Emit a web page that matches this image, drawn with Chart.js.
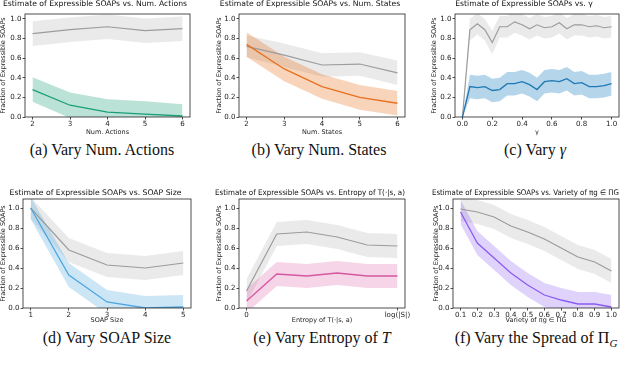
<!DOCTYPE html>
<html>
<head>
<meta charset="utf-8">
<script src="https://cdn.jsdelivr.net/npm/chart.js@4.4.1/dist/chart.umd.min.js"></script>
<style>
body{margin:0;width:640px;height:365px;overflow:hidden;background:#fff;position:relative}
canvas{position:absolute}
.cap{position:absolute;width:240px;margin-left:-120px;text-align:center;white-space:nowrap;
  font-family:'Liberation Serif','Times New Roman',serif;font-size:16px;line-height:16px;color:#111}
.cap sub{font-size:11px;line-height:0}
</style>
</head>
<body>
<canvas id="chA"></canvas>
<canvas id="chB"></canvas>
<canvas id="chC"></canvas>
<canvas id="chD"></canvas>
<canvas id="chE"></canvas>
<canvas id="chF"></canvas>
<div class="cap" style="left:102px;top:142px">(a) Vary Num. Actions</div>
<div class="cap" style="left:319px;top:142px">(b) Vary Num. States</div>
<div class="cap" style="left:535px;top:142px">(c) Vary <i>γ</i></div>
<div class="cap" style="left:107px;top:330px">(d) Vary SOAP Size</div>
<div class="cap" style="left:322px;top:330px">(e) Vary Entropy of <i>T</i></div>
<div class="cap" style="left:536px;top:330px">(f) Vary the Spread of Π<sub><i>G</i></sub></div>
<script>
'use strict';

// (a) number of actions
const actions=[2,3,4,5,6];
const actAll=[0.85,0.89,0.92,0.88,0.90];
const actAllSd=[0.125,0.125,0.125,0.125,0.125];
const actExp=[0.28,0.12,0.05,0.03,0.01];
const actExpSd=[0.125,0.13,0.13,0.13,0.12];

// (b) number of states
const states=[2,3,4,5,6];
const stAll=[0.72,0.63,0.53,0.54,0.45];
const stAllSd=[0.11,0.12,0.12,0.12,0.125];
const stExp=[0.74,0.49,0.31,0.20,0.14];
const stExpSd=[0.125,0.125,0.125,0.125,0.125];

// (c) gamma
const gammas=[0,0.05,0.1,0.15,0.2,0.25,0.3,0.35,0.4,0.45,0.5,0.55,0.6,0.65,0.7,0.75,0.8,0.85,0.9,0.95,1.0];
const gamAll=[0,0.89,0.95,0.89,0.76,0.92,0.92,0.97,0.94,0.90,0.94,0.91,0.92,0.96,0.90,0.94,0.94,0.92,0.93,0.91,0.92];
const gamAllSd=[0,0.11,0.11,0.11,0.12,0.11,0.11,0.11,0.11,0.11,0.11,0.11,0.11,0.11,0.11,0.11,0.11,0.11,0.11,0.11,0.11];
const gamExp=[0,0.31,0.30,0.31,0.27,0.28,0.34,0.34,0.36,0.33,0.28,0.36,0.37,0.36,0.39,0.34,0.35,0.31,0.31,0.32,0.34];
const gamExpSd=[0,0.12,0.12,0.12,0.12,0.12,0.12,0.12,0.12,0.12,0.12,0.12,0.12,0.12,0.12,0.12,0.12,0.12,0.12,0.12,0.12];

// (d) SOAP size
const sizes=[1,2,3,4,5];
const szAll=[1.0,0.58,0.43,0.40,0.45];
const szAllSd=[0.11,0.12,0.12,0.12,0.12];
const szExp=[1.0,0.33,0.06,0.0,0.01];
const szExpSd=[0.11,0.12,0.12,0.12,0.12];

// (e) entropy of T
const entropy=[0,1,2,3,4,5];
const entAll=[0.17,0.74,0.76,0.71,0.63,0.62];
const entAllSd=[0.12,0.12,0.12,0.12,0.12,0.12];
const entExp=[0.07,0.34,0.32,0.35,0.32,0.32];
const entExpSd=[0.12,0.12,0.12,0.12,0.12,0.12];

// (f) variety of pi_g
const variety=[0.1,0.2,0.3,0.4,0.5,0.6,0.7,0.8,0.9,1.0];
const varAll=[0.99,0.96,0.91,0.82,0.76,0.69,0.60,0.51,0.46,0.37];
const varAllSd=[0.12,0.12,0.12,0.12,0.12,0.12,0.12,0.12,0.12,0.12];
const varExp=[0.96,0.65,0.50,0.35,0.23,0.13,0.08,0.04,0.04,0.01];
const varExpSd=[0.12,0.12,0.12,0.12,0.12,0.12,0.12,0.12,0.12,0.12];

const yTicks=[0,0.2,0.4,0.6,0.8,1.0];

const grayLine='#9c9c9c';
const grayBand='rgba(158,158,158,0.22)';
const TS=7.7; // title font size
const AS=6.5; // axis title font size
const KS=7.1; // tick label font size

// draws the full box around the axes, like matplotlib spines
const frame={
    id:'frame',
    afterDraw(chart){
        const a=chart.chartArea;
        const c=chart.ctx;
        c.save();
        c.strokeStyle='#222';
        c.lineWidth=0.8;
        c.strokeRect(a.left,a.top,a.right-a.left,a.bottom-a.top);
        c.restore();
    }
};

function pts(xs,ys){
    return xs.map((x,i)=>({x:x,y:ys[i]}));
}
function shift(ys,sd,sign){
    return ys.map((v,i)=>v+sign*sd[i]);
}

function makeChart(id,p){
    const cv=document.getElementById(id);
    const [cl,ct,cw,ch]=p.canvas;
    const [bl,bt,br,bb]=p.box;
    cv.style.left=cl+'px';
    cv.style.top=ct+'px';
    cv.width=cw;
    cv.height=ch;

    const datasets=[
        {data:pts(p.xs,shift(p.all,p.allSd,1)),fill:'+1',backgroundColor:grayBand,borderWidth:0,pointRadius:0,order:4},
        {data:pts(p.xs,shift(p.all,p.allSd,-1)),fill:false,borderWidth:0,pointRadius:0,order:4},
        {data:pts(p.xs,shift(p.exp,p.expSd,1)),fill:'+1',backgroundColor:p.band,borderWidth:0,pointRadius:0,order:3},
        {data:pts(p.xs,shift(p.exp,p.expSd,-1)),fill:false,borderWidth:0,pointRadius:0,order:3},
        {data:pts(p.xs,p.all),borderColor:grayLine,borderWidth:1.2,pointRadius:0,fill:false,order:2},
        {data:pts(p.xs,p.exp),borderColor:p.color,borderWidth:1.3,pointRadius:0,fill:false,order:1}
    ];

    new Chart(cv,{
        type:'line',
        data:{datasets:datasets},
        options:{
            responsive:false,
            animation:false,
            events:[],
            layout:{padding:{left:0,top:0,bottom:0,right:cl+cw-br}},
            plugins:{
                legend:{display:false},
                tooltip:{enabled:false},
                title:{
                    display:true,
                    text:p.title,
                    color:'#111',
                    font:{family:'DejaVu Sans',size:TS,weight:'normal',lineHeight:1},
                    padding:{top:p.tPad,bottom:bt-ct-TS-p.tPad}
                }
            },
            scales:{
                x:{
                    type:'linear',
                    min:p.xMin,
                    max:p.xMax,
                    border:{display:false},
                    grid:{display:true,drawOnChartArea:false,drawTicks:true,tickLength:2.5,color:'#222',lineWidth:0.8},
                    ticks:{color:'#222',font:{family:'DejaVu Sans',size:KS},padding:0.5,maxRotation:0,autoSkip:false,
                        callback:p.xLabel},
                    afterBuildTicks:s=>{s.ticks=p.xTicks.map(v=>({value:v}));},
                    afterFit:s=>{s.height=ct+ch-bb;},
                    title:{display:true,text:p.xTitle,color:'#222',font:{family:'DejaVu Sans',size:AS,lineHeight:1},padding:{top:0,bottom:p.xtPad}}
                },
                y:{
                    min:0,
                    max:p.yMax,
                    border:{display:false},
                    grid:{display:true,drawOnChartArea:false,drawTicks:true,tickLength:2.5,color:'#222',lineWidth:0.8},
                    ticks:{color:'#222',font:{family:'DejaVu Sans',size:KS},padding:1,
                        callback:v=>Number(v).toFixed(1)},
                    afterBuildTicks:s=>{s.ticks=yTicks.map(v=>({value:v}));},
                    afterFit:s=>{s.width=bl-cl;},
                    title:{display:true,text:'Fraction of Expressible SOAPs',color:'#222',font:{family:'DejaVu Sans',size:AS,lineHeight:1},padding:{top:p.ytPad,bottom:0}}
                }
            }
        },
        plugins:[frame]
    });
}

makeChart('chA',{
    canvas:[0,0,215,138],box:[25,14,190,117],tPad:0,xtPad:2.5,ytPad:0.5,yMax:1.05,
    title:'Estimate of Expressible SOAPs vs. Num. Actions',xTitle:'Num. Actions',
    xs:actions,all:actAll,allSd:actAllSd,exp:actExp,expSd:actExpSd,
    color:'#1b9e77',band:'rgba(27,158,119,0.3)',
    xMin:1.8,xMax:6.2,xTicks:actions,xLabel:v=>String(v)
});
makeChart('chB',{
    canvas:[215,0,214,138],box:[239,14,405,117],tPad:0,xtPad:2.5,ytPad:1,yMax:1.05,
    title:'Estimate of Expressible SOAPs vs. Num. States',xTitle:'Num. States',
    xs:states,all:stAll,allSd:stAllSd,exp:stExp,expSd:stExpSd,
    color:'#e8701f',band:'rgba(232,112,31,0.3)',
    xMin:1.8,xMax:6.2,xTicks:states,xLabel:v=>String(v)
});
makeChart('chC',{
    canvas:[429,0,216,138],box:[455,14,619,117],tPad:0,xtPad:2.5,ytPad:2,yMax:1.05,
    title:'Estimate of Expressible SOAPs vs. γ',xTitle:'γ',
    xs:gammas,all:gamAll,allSd:gamAllSd,exp:gamExp,expSd:gamExpSd,
    color:'#1f78b4',band:'rgba(107,174,214,0.5)',
    xMin:-0.05,xMax:1.05,xTicks:[0,0.2,0.4,0.6,0.8,1.0],xLabel:v=>Number(v).toFixed(1)
});
makeChart('chD',{
    canvas:[0,186,214,141],box:[23,199,191,308],tPad:3,xtPad:3.5,ytPad:0,yMax:1.09,
    title:'Estimate of Expressible SOAPs vs. SOAP Size',xTitle:'SOAP Size',
    xs:sizes,all:szAll,allSd:szAllSd,exp:szExp,expSd:szExpSd,
    color:'#4da6e0',band:'rgba(77,166,224,0.28)',
    xMin:0.8,xMax:5.2,xTicks:sizes,xLabel:v=>String(v)
});
makeChart('chE',{
    canvas:[215,186,214,141],box:[239,199,405,308],tPad:3,xtPad:3.5,ytPad:1,yMax:1.09,
    title:'Estimate of Expressible SOAPs vs. Entropy of T(·|s, a)',xTitle:'Entropy of T(·|s, a)',
    xs:entropy,all:entAll,allSd:entAllSd,exp:entExp,expSd:entExpSd,
    color:'#d6589f',band:'rgba(214,88,159,0.25)',
    xMin:-0.25,xMax:5.25,xTicks:[0,5],xLabel:v=>(v===0?'0':'log(|S|)')
});
makeChart('chF',{
    canvas:[432,186,231,141],box:[453,199,619,308],tPad:3,xtPad:3.5,ytPad:1,yMax:1.09,
    title:'Estimate of Expressible SOAPs vs. Variety of πg ∈ ΠG',xTitle:'Variety of πg ∈ ΠG',
    xs:variety,all:varAll,allSd:varAllSd,exp:varExp,expSd:varExpSd,
    color:'#8c5cf0',band:'rgba(140,92,240,0.27)',
    xMin:0.055,xMax:1.045,xTicks:variety,xLabel:v=>Number(v).toFixed(1)
});
</script>
</body>
</html>
